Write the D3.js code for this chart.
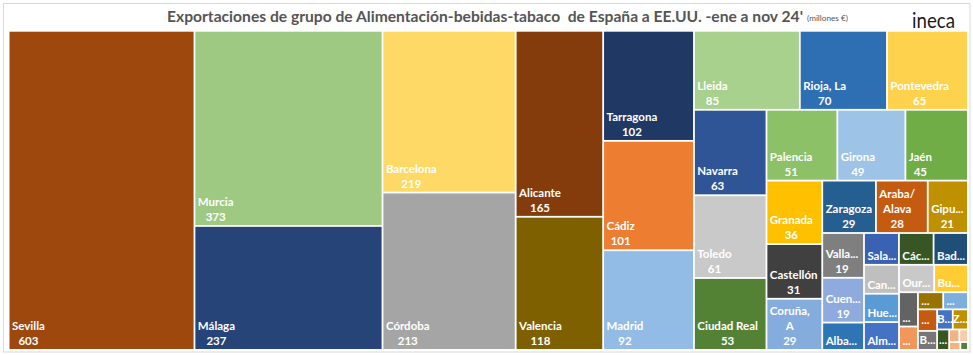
<!DOCTYPE html>
<html><head><meta charset="utf-8">
<script src="https://cdn.jsdelivr.net/npm/d3@7"></script>
<style>
html,body{margin:0;padding:0;background:#fff;}
svg{display:block;font-family:Lato,'Open Sans',sans-serif;}
</style>
</head><body>
<svg id="c" width="973" height="355"></svg>
<script>
// ---- data (millones €) ----
const provinces = ["Sevilla","Murcia","Málaga","Barcelona","Córdoba","Alicante","Valencia","Tarragona","Cádiz","Madrid",
  "Lleida","Rioja, La","Pontevedra","Navarra","Toledo","Ciudad Real","Palencia","Girona","Jaén","Granada",
  "Castellón","Coruña, A","Zaragoza","Araba/Alava","Gipuzkoa","Valladolid","Cuenca","Albacete","Salamanca","Cáceres",
  "Badajoz","Cantabria","Huelva","Almería","Ourense","Burgos","León","Asturias","Guadalajara","Lugo",
  "Teruel","Balears, Illes","Bizkaia","Zamora","Segovia","Ávila","Soria","Palmas, Las","Huesca"];
const values = [603,373,237,219,213,165.4,118.4,101.6,101,92,
  85,70,65,63,61,53,51,49,45,36,
  31,29,28.6,27.6,21.4,19,19,11.6,11.3,11.2,
  11.1,10.3,10.1,9.9,9.8,9.4,6.6,4.5,4.4,4.3,
  4.2,3.7,3.2,3.1,2.5,1.3,1.1,0.9,0.6];
// label text as shown on the chart ("\n" = line break)
const labels = ["Sevilla","Murcia","Málaga","Barcelona","Córdoba","Alicante","Valencia","Tarragona","Cádiz","Madrid",
  "Lleida","Rioja, La","Pontevedra","Navarra","Toledo","Ciudad Real","Palencia","Girona","Jaén","Granada",
  "Castellón","Coruña,\nA","Zaragoza","Araba/\nAlava","Gipu...","Valla...","Cuen...","Alba...","Sala...","Các...",
  "Bad...","Can...","Hue...","Alm...","Our...","Bu...","...","...","...","...",
  "...","B...","B...","Z...","...","","","",""];
const colors = ["#9E480E","#9DC983","#264478","#FFD966","#A5A5A5","#843C0C","#7F6000","#203864","#ED7D31","#92BCE5",
  "#A9D18E","#2E6FB3","#FFD24D","#2F5597","#C9C9C9","#548235","#8CC168","#9DC3E6","#70AD47","#FFC000",
  "#404040","#84ACDD","#255E91","#C55A11","#BF9000","#7F7F7F","#8FAADC","#2E75B6","#3A62B2","#375623",
  "#1F4E79","#BFBFBF","#5B9BD5","#4472C4","#C9C9C9","#FFCD33","#636363","#F1975A","#997300","#7CAFDD",
  "#C55A11","#767676","#4472C4","#BF9000","#375623","#F4B183","#F8CBAD","#F4B183","#548235"];

const titleText = "Exportaciones de grupo de Alimentación-bebidas-tabaco  de España a EE.UU. -ene a nov 24'";
const unitText = "(millones €)";
const logoText = "ineca";

// ---- drawing ----
const svg = d3.select("#c");
const plot = {x0: 9.5, y0: 31.7, x1: 967, y1: 349};

svg.append("rect").attr("x",3.5).attr("y",3.5).attr("width",966.5).attr("height",348.5)
  .attr("fill","none").attr("stroke","#d9d9d9").attr("stroke-width",1);

svg.append("text").attr("x",167).attr("y",21.5)
  .attr("textLength",636).attr("lengthAdjust","spacingAndGlyphs")
  .style("white-space","pre").attr("font-size",15).attr("font-weight",700)
  .attr("fill","#555").text(titleText);
svg.append("text").attr("x",807).attr("y",21).attr("textLength",41).attr("lengthAdjust","spacingAndGlyphs")
  .attr("font-size",7).attr("fill","#555").text(unitText);
svg.append("text").attr("x",912).attr("y",27.5).attr("textLength",43).attr("lengthAdjust","spacingAndGlyphs")
  .attr("font-size",22).attr("fill","#1a1a1a").text(logoText);

// squarified tiling tuned to Excel's row breaks (d3 clamps ratio to >=1, so rows are built here)
function excelTile(parent, x0, y0, x1, y1) {
  const nodes = parent.children, n = nodes.length, total = parent.value;
  let i0 = 0, i1 = 0, value = parent.value;
  while (i0 < n) {
    const dx = x1 - x0, dy = y1 - y0;
    const ratio = dx < dy ? 1.0 : (value / total > 0.25 ? 0.78 : 0.94);
    let sumValue, minValue, maxValue;
    do sumValue = nodes[i1++].value; while (!sumValue && i1 < n);
    minValue = maxValue = sumValue;
    const alpha = Math.max(dy / dx, dx / dy) / (value * ratio);
    let beta = sumValue * sumValue * alpha;
    let minRatio = Math.max(maxValue / beta, beta / minValue);
    for (; i1 < n; ++i1) {
      const nv = nodes[i1].value;
      sumValue += nv;
      if (nv < minValue) minValue = nv;
      if (nv > maxValue) maxValue = nv;
      beta = sumValue * sumValue * alpha;
      const nr = Math.max(maxValue / beta, beta / minValue);
      if (nr > minRatio) { sumValue -= nv; break; }
      minRatio = nr;
    }
    const row = {value: sumValue, children: nodes.slice(i0, i1)};
    if (dx < dy) d3.treemapDice(row, x0, y0, x1, dy ? y0 += dy * sumValue / value : y1);
    else d3.treemapSlice(row, x0, y0, dx ? x0 += dx * sumValue / value : x1, y1);
    value -= sumValue; i0 = i1;
  }
}

const data = provinces.map((p,i)=>({name:p, value:values[i], label:labels[i], color:colors[i]}));
const root = d3.hierarchy({children:data}).sum(d=>d.children?0:d.value)
  .sort((a,b)=>b.value-a.value);
d3.treemap().tile(excelTile)
  .size([plot.x1-plot.x0, plot.y1-plot.y0]).paddingInner(1.8)(root);

const g = svg.append("g").attr("transform",`translate(${plot.x0},${plot.y0})`);
const leaf = g.selectAll("g").data(root.leaves()).join("g");
leaf.append("rect")
  .attr("x",d=>d.x0).attr("y",d=>d.y0)
  .attr("width",d=>Math.max(0,d.x1-d.x0)).attr("height",d=>Math.max(0,d.y1-d.y0))
  .attr("fill",d=>d.data.color);

leaf.each(function(d){
  if(!d.data.label) return;
  const w = d.x1-d.x0, h = d.y1-d.y0;
  const lines = d.data.label.split("\n");
  if (h >= 36 && d.data.label !== "...") lines.push(String(Math.round(d.data.value)));
  const sel = d3.select(this);
  const n = lines.length;
  const ts = lines.map(t => sel.append("text").text(t)
     .attr("font-size",11.5).attr("font-weight",700).attr("fill","#fff")
     .attr("text-anchor","middle").attr("dy","0.35em"));
  const bw = d3.max(ts, t => t.node().getComputedTextLength());
  let cx = d.x0 + 2.5 + bw/2;
  if (bw > w - 3) cx = (d.x0+d.x1)/2;
  ts.forEach((t,i)=>{
    let cy = d.y1 - 8 - (n-1-i)*15;
    if (n === 1 && h < 20) cy = (d.y0+d.y1)/2;
    t.attr("x",cx).attr("y",cy);
  });
});
</script>
</body></html>
